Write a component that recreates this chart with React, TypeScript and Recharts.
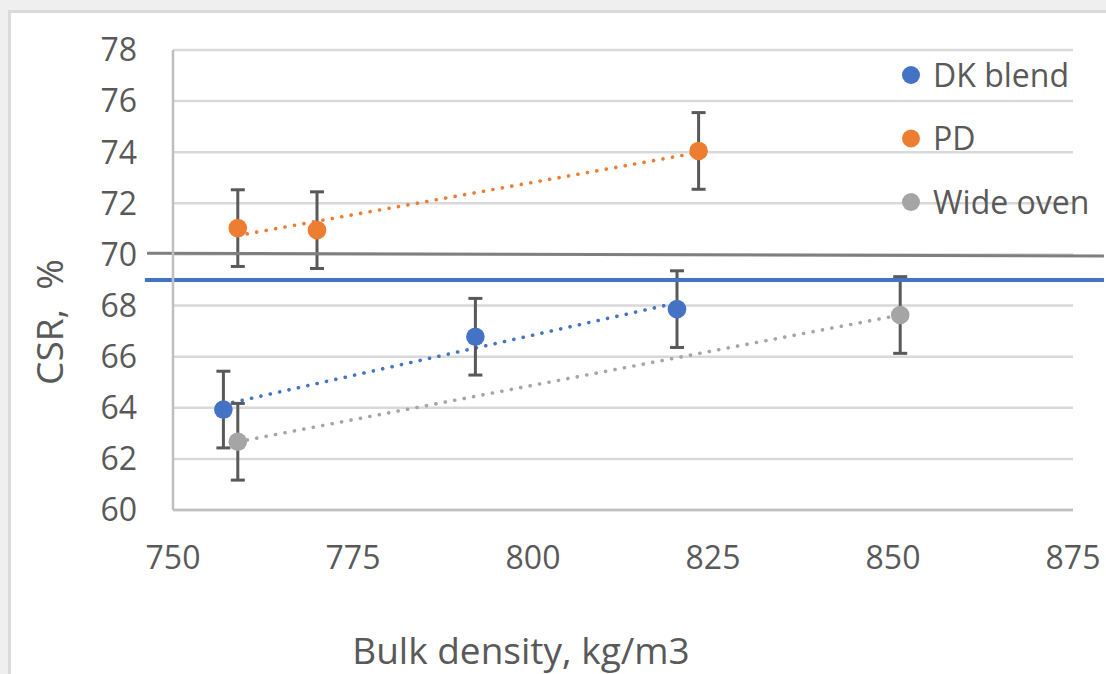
import React from 'react';
import {
  ComposedChart,
  Scatter,
  Line,
  XAxis,
  YAxis,
  CartesianGrid,
  ErrorBar,
  ReferenceLine,
  Customized,
} from 'recharts';

// ---------- data ----------
const xTicks = [750, 775, 800, 825, 850, 875];
const yTicks = [60, 62, 64, 66, 68, 70, 72, 74, 76, 78];

const seriesNames = ['DK blend', 'PD', 'Wide oven'];
const seriesColors = ['#4472C4', '#ED7D31', '#A5A5A5'];

const dkX = [757, 792, 820];
const dkY = [63.93, 66.78, 67.86];
const dkErr = [1.5, 1.5, 1.5];

const pdX = [759, 770, 823];
const pdY = [71.03, 70.95, 74.05];
const pdErr = [1.5, 1.5, 1.5];

const woX = [759, 851];
const woY = [62.67, 67.63];
const woErr = [1.5, 1.5];

// horizontal limit lines (drawn slightly beyond the plot area, as in the original)
const grayLimitX = [746.4, 879.3];
const grayLimitY = [70.05, 69.94];
const blueLimitX = [746.1, 879.3];
const blueLimitY = [69.0, 69.0];

const xTitle = 'Bulk density, kg/m3';
const yTitle = 'CSR,\u00a0\u00a0%';

// ---------- helpers ----------
const toPoints = (xs: number[], ys: number[], es: number[]) =>
  xs.map((x, i) => ({ x, y: ys[i], err: es[i] }));

const trend = (xs: number[], ys: number[]) => {
  const n = xs.length;
  const mx = xs.reduce((a, b) => a + b, 0) / n;
  const my = ys.reduce((a, b) => a + b, 0) / n;
  let sxy = 0;
  let sxx = 0;
  xs.forEach((x, i) => {
    sxy += (x - mx) * (ys[i] - my);
    sxx += (x - mx) * (x - mx);
  });
  const slope = sxy / sxx;
  const x0 = Math.min(...xs);
  const x1 = Math.max(...xs);
  return [
    { x: x0, y: my + slope * (x0 - mx) },
    { x: x1, y: my + slope * (x1 - mx) },
  ];
};

const dkPts = toPoints(dkX, dkY, dkErr);
const pdPts = toPoints(pdX, pdY, pdErr);
const woPts = toPoints(woX, woY, woErr);
const allPts = [dkPts, pdPts, woPts];
const trends = [trend(dkX, dkY), trend(pdX, pdY), trend(woX, woY)];

const FONT = '"Open Sans", "DejaVu Sans", sans-serif';
const TEXT = '#595959';

const makeDot = (color: string) => (props: any) => {
  const { cx, cy } = props;
  if (cx == null || cy == null) return <g />;
  return <circle cx={cx} cy={cy} r={9.3} fill={color} />;
};

const Overlay = () => (
  <g fontFamily={FONT} fill={TEXT}>
    {seriesNames.map((name, i) => (
      <g key={name}>
        <circle cx={911} cy={75 + i * 63.5} r={9} fill={seriesColors[i]} />
        <text x={933} y={86.5 + i * 63.5} fontSize={32} fill={TEXT}>
          {name}
        </text>
      </g>
    ))}
    <text x={521} y={664} fontSize={37} textAnchor="middle" fill={TEXT}>
      {xTitle}
    </text>
    <text
      x={63}
      y={322}
      fontSize={37}
      textAnchor="middle"
      fill={TEXT}
      transform="rotate(-90 63 322)"
    >
      {yTitle}
    </text>
  </g>
);

export default function App() {
  return (
    <div
      style={{
        position: 'fixed',
        left: 0,
        top: 0,
        width: 1106,
        height: 674,
        background: '#efefef',
        overflow: 'hidden',
      }}
    >
      <div
        style={{
          position: 'absolute',
          left: 8,
          top: 10,
          width: 1300,
          height: 900,
          boxSizing: 'border-box',
          border: '3px solid #dadada',
          background: '#ffffff',
        }}
      />
      <div style={{ position: 'absolute', left: 0, top: 0 }}>
        <ComposedChart
          width={1106}
          height={674}
          margin={{ top: 50, right: 33, left: 73, bottom: 0 }}
        >
          <CartesianGrid vertical={false} stroke="#d9d9d9" strokeWidth={2.5} />
          <XAxis
            dataKey="x"
            type="number"
            domain={[750, 875]}
            ticks={xTicks}
            interval={0}
            height={164}
            tickSize={0}
            tickMargin={36}
            tickLine={false}
            axisLine={{ stroke: '#bfbfbf', strokeWidth: 2.5 }}
            tick={{ fill: TEXT, fontSize: 32, fontFamily: FONT }}
            allowDataOverflow
          />
          <YAxis
            type="number"
            domain={[60, 78]}
            ticks={yTicks}
            interval={0}
            width={100}
            tickSize={0}
            tickMargin={36}
            tickLine={false}
            axisLine={{ stroke: '#bfbfbf', strokeWidth: 2.5 }}
            tick={{ fill: TEXT, fontSize: 32, fontFamily: FONT }}
            allowDataOverflow
          />
          {trends.map((t, i) => (
            <Line
              key={'trend' + i}
              data={t}
              dataKey="y"
              stroke={seriesColors[i]}
              strokeWidth={3.6}
              strokeDasharray="0.1 9.5"
              strokeLinecap="round"
              dot={false}
              activeDot={false}
              legendType="none"
              isAnimationActive={false}
            />
          ))}
          {allPts.map((pts, i) => (
            <Scatter
              key={'s' + i}
              name={seriesNames[i]}
              data={pts}
              dataKey="y"
              fill={seriesColors[i]}
              shape={makeDot(seriesColors[i])}
              isAnimationActive={false}
            >
              <ErrorBar
                dataKey="err"
                direction="y"
                width={7}
                strokeWidth={3}
                stroke="#595959"
                isAnimationActive={false}
              />
            </Scatter>
          ))}
          <ReferenceLine
            segment={[
              { x: grayLimitX[0], y: grayLimitY[0] },
              { x: grayLimitX[1], y: grayLimitY[1] },
            ]}
            stroke="#7f7f7f"
            strokeWidth={3}
            ifOverflow="visible"
          />
          <ReferenceLine
            segment={[
              { x: blueLimitX[0], y: blueLimitY[0] },
              { x: blueLimitX[1], y: blueLimitY[1] },
            ]}
            stroke="#4472C4"
            strokeWidth={4}
            ifOverflow="visible"
          />
          <Customized component={Overlay} />
        </ComposedChart>
      </div>
    </div>
  );
}
